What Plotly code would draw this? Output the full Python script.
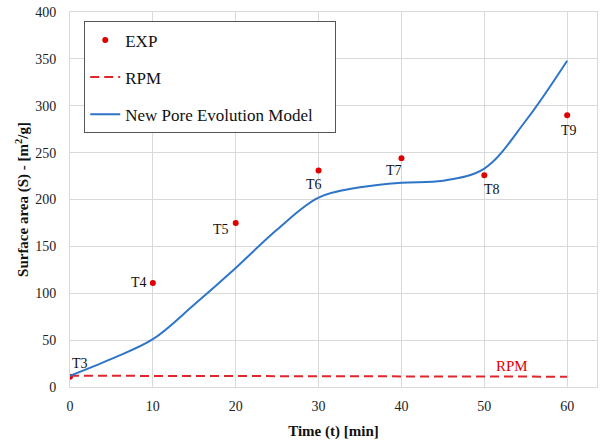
import plotly.graph_objects as go

# Experimental data
exp_t = [0, 10, 20, 30, 40, 50, 60]
exp_s = [11, 111, 175, 231, 244, 226, 290]
exp_labels = ["T3", "T4", "T5", "T6", "T7", "T8", "T9"]
label_dx = [10, -14, -15, -5, -7, 8, 2]
label_dy = [13, 0, -7, -14, -12, -14, -15]

# RPM model
rpm_t = [0, 60]
rpm_s = [12, 11]

# New Pore Evolution Model
npe_t = [0, 5, 10, 15, 20, 25, 30, 35, 40, 45, 50, 55, 60]
npe_s = [12, 30, 51, 88, 127, 168, 202, 213, 218, 220, 233, 284, 348]

serif = "Liberation Serif, Times New Roman, serif"

fig = go.Figure()
fig.add_trace(go.Scatter(x=exp_t, y=exp_s, mode="markers", name="EXP",
                         marker=dict(color="#e00000", size=6), legendgroup="a"))
fig.add_trace(go.Scatter(x=rpm_t, y=rpm_s, mode="lines", name="RPM",
                         line=dict(color="#e0262a", width=2, dash="9px,5px"), legendgroup="b"))
fig.add_trace(go.Scatter(x=npe_t, y=npe_s, mode="lines",
                         name="New Pore Evolution Model&nbsp;&nbsp;&nbsp;&nbsp;",
                         line=dict(color="#2e75c8", width=2, shape="spline", smoothing=1.0),
                         legendgroup="c"))

for t, s, lab, dx, dy in zip(exp_t, exp_s, exp_labels, label_dx, label_dy):
    fig.add_annotation(x=t, y=s, text=lab, showarrow=False, xshift=dx, yshift=dy,
                       font=dict(family=serif, size=14, color="#111"))

fig.add_annotation(x=53.3, y=22, text="RPM", showarrow=False,
                   font=dict(family=serif, size=15, color="#e00000"))

fig.update_layout(
    width=606, height=442,
    margin=dict(l=70, r=9, t=12, b=55),
    paper_bgcolor="white", plot_bgcolor="white",
    font=dict(family=serif, size=14, color="#222"),
    showlegend=True,
    legend=dict(x=0.027, y=0.975, xanchor="left", yanchor="top",
                bgcolor="white", bordercolor="#555", borderwidth=1,
                font=dict(family=serif, size=17, color="#111"),
                tracegroupgap=12, itemwidth=30),
    xaxis=dict(range=[0, 63.6], tickvals=[0, 10, 20, 30, 40, 50, 60],
               showgrid=True, gridcolor="#d9d9d9", gridwidth=1,
               zeroline=False, showline=True, linecolor="#d9d9d9", mirror=True,
               ticks="", ticklabelstandoff=6, automargin=False,
               tickfont=dict(family=serif, size=14, color="#222"),
               title=dict(text="<b>Time (t) [min]</b>", font=dict(family=serif, size=15, color="#111"),
                          standoff=12)),
    yaxis=dict(range=[0, 400], dtick=50,
               showgrid=True, gridcolor="#d9d9d9", gridwidth=1,
               zeroline=False, showline=True, linecolor="#d9d9d9", mirror=True,
               ticks="", ticklabelstandoff=10, automargin=False,
               tickfont=dict(family=serif, size=14, color="#222"),
               title=dict(text="<b>Surface area (S) - [m<sup>2</sup>/g]</b>",
                          font=dict(family=serif, size=15, color="#111"), standoff=2)),
)

fig.write_html("out.html")
